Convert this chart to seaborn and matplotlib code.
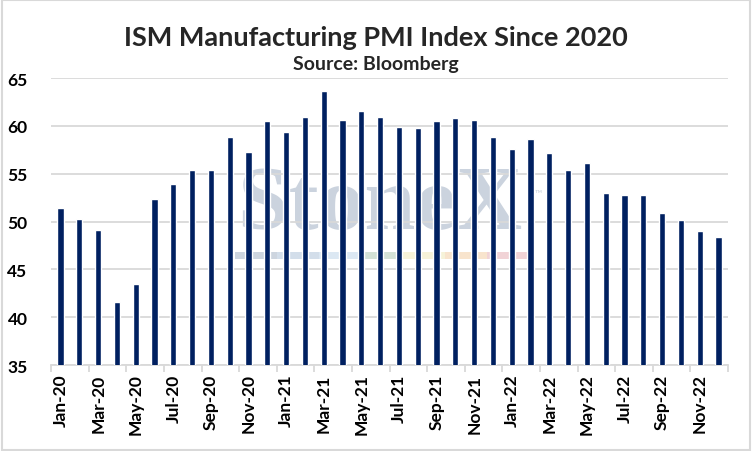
import matplotlib
matplotlib.use("Agg")
import matplotlib.pyplot as plt
import seaborn as sns
import pandas as pd
import numpy as np
from matplotlib.patches import Rectangle

# monthly ISM manufacturing PMI, Jan-20 .. Dec-22
months = pd.date_range("2020-01-01", "2022-12-01", freq="MS").strftime("%b-%y").tolist()
pmi = [51.4, 50.3, 49.1, 41.6, 43.5, 52.4, 53.9, 55.4, 55.4, 58.8, 57.3, 60.5,
       59.4, 60.9, 63.7, 60.6, 61.6, 60.9, 59.9, 59.8, 60.5, 60.8, 60.6, 58.8,
       57.6, 58.6, 57.2, 55.4, 56.1, 53.0, 52.8, 52.8, 50.9, 50.2, 49.0, 48.4]
title = "ISM Manufacturing PMI Index Since 2020"
subtitle = "Source: Bloomberg"

df = pd.DataFrame({"month": months, "pmi": pmi})

sns.set_theme(style="white")
plt.rcParams['font.family'] = ['Lato', 'DejaVu Sans']

fig = plt.figure(figsize=(7.52, 4.52), dpi=100)
ax = fig.add_axes([0.068, 0.19, 0.9, 0.635])

# StoneX watermark behind the bars
ax.text(0.486, 0.555, "StoneX", transform=ax.transAxes, ha="center", va="center",
        family="Liberation Serif", fontweight="bold", fontsize=66,
        color="#CBD3DE", zorder=0)
ax.text(0.72, 0.6, "™", transform=ax.transAxes, ha="center", va="center",
        fontsize=7, color="#CBD3DE", zorder=0)
stripe = ["#CDD5DF", "#D3DEEA", "#DCE8F3", "#D3E1D6", "#F6F2D8", "#F8E4CD", "#F1D3D6"]
for i, c in enumerate(stripe):
    ax.add_patch(Rectangle((0.272 + i * 0.062, 0.37), 0.062, 0.025,
                           transform=ax.transAxes, color=c, zorder=0, lw=0))

sns.barplot(data=df, x="month", y="pmi", color="#002060", saturation=1,
            width=0.33, ax=ax, zorder=3)

ax.set_ylim(35, 65)
ax.set_xlim(-0.5, len(months) - 0.5)
ax.set_yticks(np.arange(35, 66, 5))
ax.yaxis.grid(True, color="#D9D9D9", lw=1.3, zorder=1)
ax.set_axisbelow(True)
ax.set_xlabel("")
ax.set_ylabel("")

ax.set_xticks(np.arange(0, len(months), 2))
ax.set_xticklabels(months[::2], rotation=90, fontweight="bold", fontsize=12.5)
ax.set_xticks(np.arange(-0.5, len(months), 2), minor=True)
ax.tick_params(axis="x", which="major", length=0, pad=6, labelcolor="black")
ax.tick_params(axis="x", which="minor", length=5, width=1.3, color="#D9D9D9", bottom=True)
ax.tick_params(axis="y", length=0, labelsize=12.5, pad=17, labelcolor="black")
for lab in ax.get_yticklabels():
    lab.set_fontweight("bold")

for s in ["top", "right", "left"]:
    ax.spines[s].set_visible(False)
ax.spines["bottom"].set_color("#D9D9D9")
ax.spines["bottom"].set_linewidth(1.3)

fig.text(0.5, 0.917, title, ha="center", va="center", fontsize=19.5, fontweight="bold")
fig.text(0.5, 0.858, subtitle, ha="center", va="center", fontsize=14, fontweight="bold")

fig.patches.append(Rectangle((0.002, 0.003), 0.995, 0.994, transform=fig.transFigure,
                             fill=False, edgecolor="#D9D9D9", lw=1.5))

fig.savefig("out.png", dpi=100)
